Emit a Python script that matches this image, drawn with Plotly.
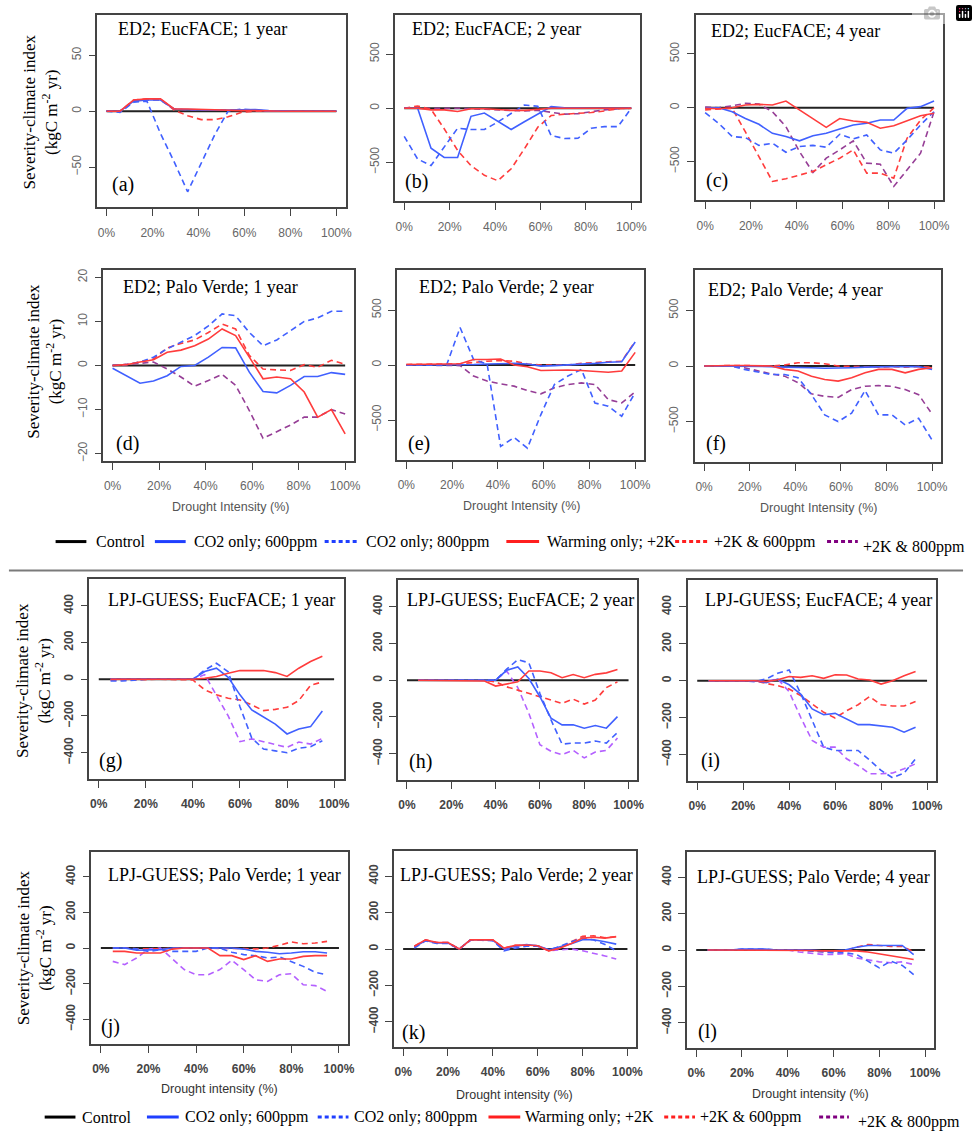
import plotly.graph_objects as go

W, H = 978, 1142

# ---------------- data ----------------
X_ED2 = [0, 5.9, 11.8, 17.6, 23.5, 29.4, 35.3, 41.2, 47.1, 52.9, 58.8, 64.7, 70.6, 76.5, 82.4, 88.2, 94.1, 100]
X_LPJ = [5, 10, 15, 20, 25, 30, 35, 40, 45, 50, 55, 60, 65, 70, 75, 80, 85, 90, 95]
CONTROL_X = [0, 100]
CONTROL_Y = [0, 0]
XTICKS = [0, 20, 40, 60, 80, 100]
XTICK_LABELS = ["0%", "20%", "40%", "60%", "80%", "100%"]

SERIES_LABELS = ["Control", "CO2 only; 600ppm", "CO2 only; 800ppm",
                 "Warming only; +2K", "+2K & 600ppm", "+2K & 800ppm"]

# (a) ED2; EucFACE; 1 year
A_CO2_600 = [0, 0, 9, 10, 10, 2, 1.5, 1, 1, 1, 1, 1.5, 0.5, 0, 0, 0, 0, 0]
A_CO2_800 = [0, -1, 8, 9, -20, -45, -72, -46, -21, 0, 2, 1, 0, 0, 0, 0, 0, 0]
A_WARM = [0, 0, 10, 11, 11, 2, 2, 1.5, 1, 1, 0.5, 0.5, 0, 0, 0, 0, 0, 0]
A_W600 = [0, 0, 10, 11, 11, 1, -4, -7.5, -7.5, -5, -1, 0, 0, 0, 0, 0, 0, 0]
A_W800 = [0, 0, 9, 10, 10, 2, 1, 1, 1, 1, 1, 1, 0, 0, 0, 0, 0, 0]

# (b) ED2; EucFACE; 2 year
B_CO2_600 = [0, 0, -370, -455, -455, -75, -45, -117, -197, -125, -52, 15, 5, 0, 0, 0, 0, 0]
B_CO2_800 = [-260, -470, -530, -360, -185, -197, -197, -128, -49, 30, 18, -253, -280, -278, -185, -170, -170, 0]
B_WARM = [0, 0, -15, -15, -30, -5, -5, -15, -20, -20, -10, 0, 0, 0, 0, 0, 0, 0]
B_W600 = [0, 20, -10, -190, -390, -530, -620, -670, -560, -376, -176, -68, -55, -50, -40, -25, -5, 0]
B_W800 = [0, 0, 5, 5, 0, -5, -10, -20, -25, -25, -20, -40, -55, -50, -30, -15, -5, 0]

# (c) ED2; EucFACE; 4 year
C_CO2_600 = [0, 0, -37, -100, -154, -238, -268, -308, -260, -238, -198, -160, -145, -114, -114, -6, 10, 62]
C_CO2_800 = [-45, -145, -268, -278, -350, -330, -414, -360, -350, -367, -247, -290, -253, -392, -423, -300, -160, -37]
C_WARM = [-5, -10, 0, 25, 31, 25, 62, -22, -100, -182, -100, -123, -136, -191, -167, -123, -74, -52]
C_W600 = [-20, -12, -6, -225, -454, -685, -660, -623, -592, -530, -469, -392, -608, -608, -654, -284, -114, 0]
C_W800 = [6, 0, 18, 40, 34, -37, -176, -407, -602, -469, -392, -308, -515, -525, -731, -577, -423, -37]

# (d) ED2; Palo Verde; 1 year
D_CO2_600 = [-0.6, -2.3, -4, -3.5, -2.3, -0.2, 0, 1.9, 4.1, 4.0, -1.5, -5.9, -6.2, -4.5, -2.5, -2.5, -1.6, -2]
D_CO2_800 = [0, 0.2, 0.8, 1.9, 3.8, 5.3, 6.8, 9.0, 11.7, 11.3, 7.5, 4.5, 5.8, 7.9, 10, 10.8, 12.3, 12.3]
D_WARM = [0, 0.2, 0.8, 1.3, 3.0, 3.5, 4.5, 6.0, 8.3, 6.8, 1.9, -3, -2.6, -3, -6, -11.7, -10, -15.5]
D_W600 = [0, 0.2, 0.8, 1.5, 4.0, 5.0, 5.8, 7.5, 9.4, 8.3, 2.3, -0.8, -1.0, -1.1, 0.2, -0.4, 1.2, 0.3]
D_W800 = [0, 0.2, 0.5, 0.8, -0.8, -2.6, -4.7, -3.4, -2.0, -4.5, -10.2, -16.5, -15, -13.5, -11.7, -11.7, -10, -11]

# (e) ED2; Palo Verde; 2 year
E_CO2_600 = [0, 0, 0, 0, 0, 5, 10, 15, 15, 10, -10, -5, 0, 10, 15, 25, 30, 210]
E_CO2_800 = [0, 0, 0, 0, 341, 50, 10, -741, -659, -756, -451, -177, -100, -40, -345, -375, -466, -250]
E_WARM = [5, 5, 8, 10, 12, 50, 50, 55, 0, -15, -50, -45, -45, -50, -55, -65, -55, 115]
E_W600 = [5, 5, 8, 10, 12, 25, 35, 40, 35, 10, 0, 0, 0, 15, 25, 30, 35, 215]
E_W800 = [0, 0, 0, 0, -5, -100, -146, -171, -192, -232, -262, -207, -177, -162, -177, -314, -345, -244]

# (f) ED2; Palo Verde; 4 year
F_CO2_600 = [0, 0, 0, -5, -5, -5, -10, -10, -15, -20, -20, -15, -10, -5, -5, -5, -5, -30]
F_CO2_800 = [0, 0, 0, -30, -52, -76, -76, -106, -258, -440, -500, -424, -220, -440, -440, -530, -470, -667]
F_WARM = [0, 5, 5, 5, 5, 0, -30, -45, -91, -121, -136, -106, -61, -30, -30, -61, -30, -15]
F_W600 = [0, 5, 5, 5, 0, 0, 10, 30, 30, 20, 0, -5, -10, -10, -5, -10, -5, -10]
F_W800 = [0, 0, 0, -15, -45, -70, -91, -150, -250, -273, -282, -212, -182, -176, -182, -212, -258, -433]

# (g) LPJ-GUESS; EucFACE; 1 year
G_CO2_600 = [0, 0, 0, 0, 0, 0, 0, 0, 42, 60, 10, -85, -167, -204, -244, -298, -271, -258, -173]
G_CO2_800 = [-10, -10, -5, 0, 0, 0, 0, 0, 50, 87, 40, -150, -320, -380, -390, -400, -376, -367, -335]
G_WARM = [0, 0, 0, 0, 0, 0, 0, 0, 5, 15, 32, 47, 47, 47, 36, 15, 60, 96, 125]
G_W600 = [-5, -5, -5, -3, 0, 0, 0, -4, -58, -85, -104, -113, -140, -171, -164, -153, -116, -33, -15]
G_W800 = [0, 0, 0, 0, 0, 0, 0, 0, 25, -90, -200, -340, -325, -340, -354, -371, -342, -353, -322]

# (h) LPJ-GUESS; EucFACE; 2 year
H_CO2_600 = [0, 0, 0, 0, 0, 0, 0, 0, 54, 72, 9, -90, -207, -243, -243, -261, -247, -261, -198]
H_CO2_800 = [0, 0, 0, 0, 0, 0, 0, 0, 60, 112, 95, -72, -216, -348, -342, -342, -331, -342, -285]
H_WARM = [0, 0, 0, 0, 0, 0, -4, -32, -22, -9, 50, 50, 41, 14, 31, 14, 32, 40, 58]
H_W600 = [0, 0, 0, 0, 0, 0, 0, -9, -36, -54, -72, -94, -112, -126, -103, -130, -108, -40, -9]
H_W800 = [0, 0, 0, 0, 0, 0, 0, 0, 50, -40, -180, -351, -387, -405, -382, -423, -391, -382, -315]

# (i) LPJ-GUESS; EucFACE; 4 year
I_CO2_600 = [0, 0, 0, 0, 0, -10, 9, -22, -72, -153, -184, -177, -207, -238, -238, -247, -252, -279, -252]
I_CO2_800 = [0, 0, 0, 0, -5, 10, 40, 58, -68, -214, -360, -378, -378, -378, -430, -486, -526, -500, -423]
I_WARM = [0, 0, 0, 0, 0, -5, 5, 23, 18, 27, 13, 32, 31, 9, 4, -18, 0, 27, 50]
I_W600 = [0, 0, 0, 0, 0, -15, -27, -45, -81, -126, -171, -202, -162, -130, -86, -130, -137, -137, -113]
I_W800 = [0, 0, 0, 0, 0, -5, 10, -60, -198, -324, -360, -360, -423, -459, -504, -504, -500, -477, -450]

# (j) LPJ-GUESS; Palo Verde; 1 year
J_CO2_600 = [0, 0, -13, -13, -9, 0, 0, 0, 0, 0, 0, -6, -19, -24, -32, -28, -21, -21, -28]
J_CO2_800 = [0, 0, -5, -19, -10, -19, -19, -19, 0, 0, -24, -37, -43, -56, -50, -75, -103, -136, -150]
J_WARM = [-19, -19, -28, -28, -28, -6, 0, 0, 0, -43, -43, -65, -43, -75, -62, -62, -47, -43, -43]
J_W600 = [0, 0, -5, -5, -5, 0, 0, 0, 0, 0, 0, -3, -5, 0, 15, 34, 24, 28, 37]
J_W800 = [-75, -93, -56, -6, 0, -60, -121, -150, -150, -121, -69, -121, -178, -187, -150, -144, -206, -211, -243]

# (k) LPJ-GUESS; Palo Verde; 2 year
K_CO2_600 = [11, 47, 33, 33, 0, 51, 51, 47, 0, 15, 24, 18, -4, 11, 29, 51, 51, 40, 27]
K_CO2_800 = [5, 45, 30, 30, 0, 48, 48, 45, -10, 5, 15, 15, -5, 15, 40, 60, 50, 25, -10]
K_WARM = [15, 50, 36, 36, 0, 50, 50, 50, 5, 20, 22, 18, -10, 5, 30, 60, 65, 60, 68]
K_W600 = [15, 50, 36, 36, 0, 50, 50, 50, 5, 20, 22, 18, -10, 5, 40, 70, 72, 62, 68]
K_W800 = [10, 48, 35, 35, 0, 48, 50, 48, -5, 15, 20, 15, -10, -5, 0, -10, -22, -38, -55]

# (l) LPJ-GUESS; Palo Verde; 4 year
L_CO2_600 = [0, 0, 0, 5, 5, 5, 0, 0, 0, 0, -5, -5, 0, 15, 25, 25, 25, 25, -25]
L_CO2_800 = [0, 0, 0, 5, 5, 5, 0, 0, 0, -5, -10, -15, -15, -24, -61, -98, -61, -85, -135]
L_WARM = [0, 0, 0, 0, 0, 0, 0, 0, 0, -3, -5, -5, -5, -5, -11, -22, -33, -43, -52]
L_W600 = [0, 0, 0, 0, 0, 0, 0, 0, 0, -5, -10, -10, -5, 15, 30, 25, 20, 20, -10]
L_W800 = [0, 0, 0, 0, 0, 0, 0, 0, -11, -18, -24, -24, -20, -43, -55, -65, -70, -65, -80]

# ---------------- styles ----------------
BLUE = "rgb(64,96,255)"
RED = "rgb(255,60,60)"
PURPLE_ED2 = "rgb(150,62,150)"
PURPLE_LPJ = "rgb(180,96,255)"
DASH = "6px,4px"
SERIF = "Liberation Serif"
SANS = "Liberation Sans"

# panel layout: (left, right, top, bottom) in pixels
PANELS = [
    dict(box=(98, 348, 13, 206), yr=86, yt=[-50, 0, 50], x=X_ED2, ed2=True,
         title="ED2; EucFACE; 1 year", tp=(117, 27), lab="(a)", lp=(124, 183),
         s=(A_CO2_600, A_CO2_800, A_WARM, A_W600, A_W800)),
    dict(box=(398, 645, 13, 200), yr=862, yt=[-500, 0, 500], x=X_ED2, ed2=True,
         title="ED2; EucFACE; 2 year", tp=(413, 27), lab="(b)", lp=(420, 180),
         s=(B_CO2_600, B_CO2_800, B_WARM, B_W600, B_W800)),
    dict(box=(701, 950, 13, 199), yr=862, yt=[-500, 0, 500], x=X_ED2, ed2=True,
         title="ED2; EucFACE; 4 year", tp=(714, 29), lab="(c)", lp=(722, 179),
         s=(C_CO2_600, C_CO2_800, C_WARM, C_W600, C_W800)),
    dict(box=(104, 357, 269, 460), yr=21.6, yt=[-20, -10, 0, 10, 20], x=X_ED2, ed2=True,
         title="ED2; Palo Verde; 1 year", tp=(122, 286), lab="(d)", lp=(128, 443),
         s=(D_CO2_600, D_CO2_800, D_WARM, D_W600, D_W800)),
    dict(box=(400, 649, 269, 459), yr=862, yt=[-500, 0, 500], x=X_ED2, ed2=True,
         title="ED2; Palo Verde; 2 year", tp=(420, 286), lab="(e)", lp=(422, 443),
         s=(E_CO2_600, E_CO2_800, E_WARM, E_W600, E_W800)),
    dict(box=(700, 948, 269, 461), yr=862, yt=[-500, 0, 500], x=X_ED2, ed2=True,
         title="ED2; Palo Verde; 4 year", tp=(711, 289), lab="(f)", lp=(721, 443),
         s=(F_CO2_600, F_CO2_800, F_WARM, F_W600, F_W800)),
    dict(box=(90, 346, 579, 779), yr=543, yt=[-400, -200, 0, 200, 400], x=X_LPJ, ed2=False,
         title="LPJ-GUESS; EucFACE; 1 year", tp=(107, 600), lab="(g)", lp=(111, 760),
         s=(G_CO2_600, G_CO2_800, G_WARM, G_W600, G_W800)),
    dict(box=(401, 642, 580, 780), yr=543, yt=[-400, -200, 0, 200, 400], x=X_LPJ, ed2=False,
         title="LPJ-GUESS; EucFACE; 2 year", tp=(408, 600), lab="(h)", lp=(424, 761),
         s=(H_CO2_600, H_CO2_800, H_WARM, H_W600, H_W800)),
    dict(box=(693, 943, 580, 781), yr=543, yt=[-400, -200, 0, 200, 400], x=X_LPJ, ed2=False,
         title="LPJ-GUESS; EucFACE; 4 year", tp=(708, 600), lab="(i)", lp=(716, 760),
         s=(I_CO2_600, I_CO2_800, I_WARM, I_W600, I_W800)),
    dict(box=(92, 351, 852, 1045), yr=540, yt=[-400, -200, 0, 200, 400], x=X_LPJ, ed2=False,
         title="LPJ-GUESS; Palo Verde; 1 year", tp=(107, 875), lab="(j)", lp=(111, 1027),
         s=(J_CO2_600, J_CO2_800, J_WARM, J_W600, J_W800)),
    dict(box=(397, 641, 851, 1048), yr=540, yt=[-400, -200, 0, 200, 400], x=X_LPJ, ed2=False,
         title="LPJ-GUESS; Palo Verde; 2 year", tp=(401, 875), lab="(k)", lp=(416, 1033),
         s=(K_CO2_600, K_CO2_800, K_WARM, K_W600, K_W800)),
    dict(box=(692, 941, 852, 1049), yr=540, yt=[-400, -200, 0, 200, 400], x=X_LPJ, ed2=False,
         title="LPJ-GUESS; Palo Verde; 4 year", tp=(700, 877), lab="(l)", lp=(713, 1032),
         s=(L_CO2_600, L_CO2_800, L_WARM, L_W600, L_W800)),
]


def px(p):
    return p / W


def py(p):
    return 1 - p / H


def note(x, y, text, font, xanchor="center", textangle=0):
    return dict(x=px(x), y=py(y), xref="paper", yref="paper", text=text,
                showarrow=False, xanchor=xanchor, yanchor="middle",
                textangle=textangle, font=font)


fig = go.Figure()
annotations = []
shapes = []
layout_axes = {}

for i, p in enumerate(PANELS, start=1):
    xa, ya = f"x{i}", f"y{i}"
    purple = PURPLE_ED2 if p["ed2"] else PURPLE_LPJ
    styles = [(BLUE, None), (BLUE, DASH), (RED, None), (RED, DASH), (purple, DASH)]
    fig.add_trace(go.Scatter(x=CONTROL_X, y=CONTROL_Y, mode="lines",
                             line=dict(color="#222", width=2), xaxis=xa, yaxis=ya,
                             showlegend=False, hoverinfo="skip"))
    order = [4, 3, 1, 0, 2]
    for k in order:
        col, dash = styles[k]
        fig.add_trace(go.Scatter(x=p["x"], y=p["s"][k], mode="lines",
                                 line=dict(color=col, width=1.6, dash=dash),
                                 xaxis=xa, yaxis=ya, name=SERIES_LABELS[k + 1],
                                 showlegend=False, hoverinfo="skip"))
    l, r, t, b = p["box"]
    tfont = dict(family=SANS, size=12, color="#666") if p["ed2"] else \
        dict(family=SANS, size=12, color="#444", weight="bold")
    common = dict(showgrid=False, zeroline=False, showline=True, mirror=True,
                  linecolor="#444", linewidth=1.5, ticks="outside", ticklen=7,
                  tickwidth=1.2, tickcolor="#444", tickfont=tfont, fixedrange=True)
    layout_axes[f"xaxis{i}"] = dict(domain=[px(l), px(r)], range=[-4, 104], anchor=ya,
                                    tickvals=XTICKS, ticktext=XTICK_LABELS,
                                    ticklabelstandoff=6, **common)
    layout_axes[f"yaxis{i}"] = dict(domain=[py(b), py(t)], range=[-p["yr"], p["yr"]],
                                    anchor=xa, tickvals=p["yt"], tickangle=-90,
                                    ticklabelstandoff=3, **common)
    annotations.append(note(p["tp"][0], p["tp"][1], p["title"],
                            dict(family=SERIF, size=18, color="#000"), xanchor="left"))
    annotations.append(note(p["lp"][0], p["lp"][1], p["lab"],
                            dict(family=SERIF, size=20, color="#000")))

# y-axis titles (one per row)
for cx, cy in [(41, 110), (44, 360), (33, 680), (35, 948)]:
    annotations.append(note(cx, cy, "Severity-climate index<br>(kgC m<sup>-2</sup> yr)",
                            dict(family=SERIF, size=17, color="#000"), textangle=-90))

# x-axis titles
for cx, cy in [(232, 506), (525, 505), (824, 507)]:
    annotations.append(note(cx, cy, "Drought Intensity (%)",
                            dict(family=SANS, size=12.5, color="#555")))
for cx, cy in [(221, 1090), (518, 1096), (816, 1095)]:
    annotations.append(note(cx, cy, "Drought intensity (%)",
                            dict(family=SANS, size=12.5, color="#333")))

# separator line
shapes.append(dict(type="line", xref="paper", yref="paper", x0=px(9), x1=px(970),
                   y0=py(570), y1=py(570), line=dict(color="#7a7a7a", width=2)))

# legends
LEG_COLORS = ["#000000", "#1f3fff", "#1f3fff", "#ff1f1f", "#ff1f1f", "#800080"]
LEG_DASH = [None, None, "4px,3px", None, "4px,3px", "4px,3px"]
LEGENDS = [
    dict(y=541, lines=[(56, 87), (156, 187), (327, 362), (510, 543), (680, 714), (833, 864)],
         text=[95, 193, 367, 549, 717, 867]),
    dict(y=1118, lines=[(45, 76), (148, 180), (320, 351), (492, 524), (669, 700), (825, 855)],
         text=[81, 184, 355, 527, 703, 862]),
]
for lg in LEGENDS:
    for j, lab in enumerate(SERIES_LABELS):
        x0, x1 = lg["lines"][j]
        shapes.append(dict(type="line", xref="paper", yref="paper", x0=px(x0), x1=px(x1),
                           y0=py(lg["y"]), y1=py(lg["y"]),
                           line=dict(color=LEG_COLORS[j], width=3, dash=LEG_DASH[j])))
        ty = lg["y"] + (5 if j == 5 else 0)
        annotations.append(note(lg["text"][j], ty, lab,
                                dict(family=SERIF, size=16, color="#000"), xanchor="left"))

fig.update_layout(width=W, height=H, margin=dict(l=0, r=0, t=0, b=0),
                  paper_bgcolor="white", plot_bgcolor="white",
                  annotations=annotations, shapes=shapes, showlegend=False,
                  **layout_axes)

fig.write_html("out.html", post_script="document.body.style.margin='0';")
